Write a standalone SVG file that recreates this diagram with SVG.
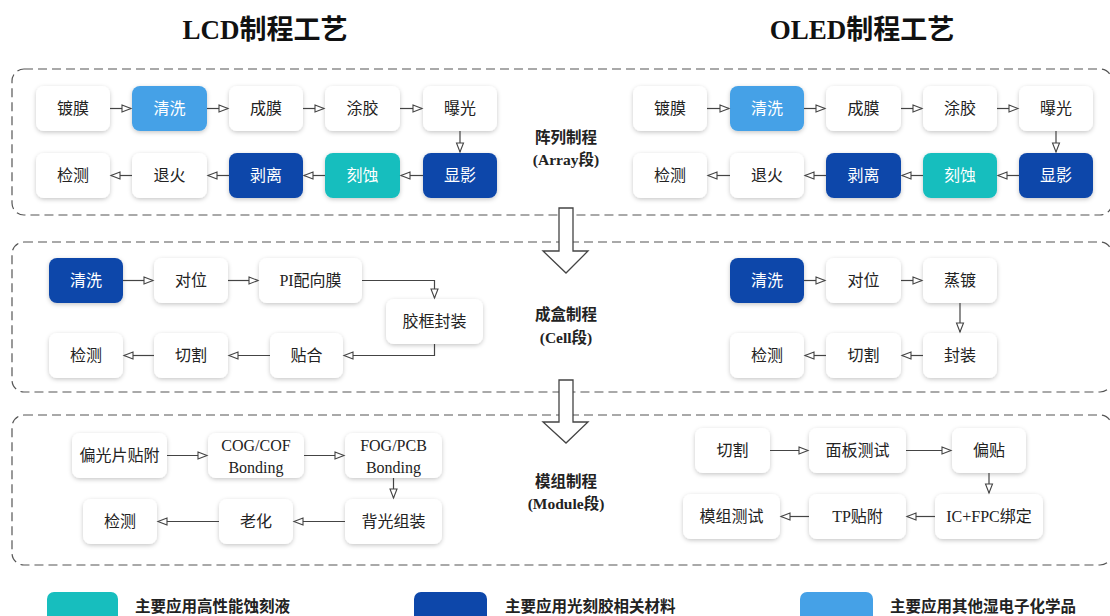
<svg xmlns="http://www.w3.org/2000/svg" width="1110" height="616" viewBox="0 0 1110 616">
<defs>
<filter id="sh" x="-20%" y="-30%" width="140%" height="160%">
<feDropShadow dx="0" dy="1.5" stdDeviation="2" flood-color="#000" flood-opacity="0.22"/>
</filter>
<marker id="ah" markerWidth="12" markerHeight="10" refX="10" refY="5" orient="auto" markerUnits="userSpaceOnUse">
<path d="M1,1.5 L10,5 L1,8.5 Z" fill="#fff" stroke="#444" stroke-width="1.1"/>
</marker>
<style>
.n{fill:#fff;filter:url(#sh)}
.lb{fill:#45a1e7;filter:url(#sh)}
.db{fill:#0d47aa;filter:url(#sh)}
.tl{fill:#17bebe;filter:url(#sh)}
text{font-family:"Liberation Serif","Noto Sans CJK SC",serif}
.t{font-size:16px;fill:#222;text-anchor:middle;dominant-baseline:central}
.w{font-size:16px;fill:#fff;text-anchor:middle;dominant-baseline:central}
.title{font-size:27px;font-weight:bold;fill:#111;text-anchor:middle}
.sl{font-size:15.5px;font-weight:bold;fill:#222;text-anchor:middle}
.lg{font-size:15.5px;font-weight:bold;fill:#222}
.sec{fill:none;stroke:#555;stroke-width:1.2;stroke-dasharray:9 5}
.c{fill:none;stroke:#444;stroke-width:1.2;marker-end:url(#ah)}
.big{fill:#fff;stroke:#444;stroke-width:1.3}
</style>
</defs>
<rect width="1110" height="616" fill="#fff"/>

<text class="title" x="265" y="39">LCD制程工艺</text>
<text class="title" x="862" y="39">OLED制程工艺</text>

<g id="sections">
<rect class="sec" x="12" y="69" width="1100" height="146" rx="12"/>
<rect class="sec" x="12" y="242" width="1100" height="150" rx="12"/>
<rect class="sec" x="12" y="415" width="1100" height="150" rx="12"/>
</g>

<g id="stage-labels">
<text class="sl" x="566" y="143">阵列制程</text>
<text class="sl" x="566" y="165">(Array段)</text>
<text class="sl" x="566" y="320">成盒制程</text>
<text class="sl" x="566" y="343">(Cell段)</text>
<text class="sl" x="566" y="487">模组制程</text>
<text class="sl" x="566" y="509">(Module段)</text>
</g>

<!-- LCD Array -->
<g id="lcd-a-dumo"><rect class="n" x="36" y="86" width="74" height="45" rx="8"/><text class="t" x="73" y="108.5">镀膜</text></g>
<g id="lcd-a-qingxi"><rect class="lb" x="132" y="86" width="75" height="45" rx="8"/><text class="w" x="169.5" y="108.5">清洗</text></g>
<g id="lcd-a-chengmo"><rect class="n" x="229" y="86" width="74" height="45" rx="8"/><text class="t" x="266" y="108.5">成膜</text></g>
<g id="lcd-a-tujiao"><rect class="n" x="325" y="86" width="75" height="45" rx="8"/><text class="t" x="362.5" y="108.5">涂胶</text></g>
<g id="lcd-a-baoguang"><rect class="n" x="423" y="86" width="74" height="45" rx="8"/><text class="t" x="460" y="108.5">曝光</text></g>
<g id="lcd-a-xianying"><rect class="db" x="423" y="153" width="74" height="45" rx="8"/><text class="w" x="460" y="175.5">显影</text></g>
<g id="lcd-a-keshi"><rect class="tl" x="325" y="153" width="75" height="45" rx="8"/><text class="w" x="362.5" y="175.5">刻蚀</text></g>
<g id="lcd-a-boli"><rect class="db" x="229" y="153" width="74" height="45" rx="8"/><text class="w" x="266" y="175.5">剥离</text></g>
<g id="lcd-a-tuihuo"><rect class="n" x="132" y="153" width="75" height="45" rx="8"/><text class="t" x="169.5" y="175.5">退火</text></g>
<g id="lcd-a-jiance"><rect class="n" x="36" y="153" width="74" height="45" rx="8"/><text class="t" x="73" y="175.5">检测</text></g>

<!-- OLED Array -->
<g id="oled-a-dumo"><rect class="n" x="633" y="86" width="74" height="45" rx="8"/><text class="t" x="670" y="108.5">镀膜</text></g>
<g id="oled-a-qingxi"><rect class="lb" x="730" y="86" width="74" height="45" rx="8"/><text class="w" x="767" y="108.5">清洗</text></g>
<g id="oled-a-chengmo"><rect class="n" x="826" y="86" width="75" height="45" rx="8"/><text class="t" x="863.5" y="108.5">成膜</text></g>
<g id="oled-a-tujiao"><rect class="n" x="923" y="86" width="74" height="45" rx="8"/><text class="t" x="960" y="108.5">涂胶</text></g>
<g id="oled-a-baoguang"><rect class="n" x="1019" y="86" width="74" height="45" rx="8"/><text class="t" x="1056" y="108.5">曝光</text></g>
<g id="oled-a-xianying"><rect class="db" x="1019" y="153" width="74" height="45" rx="8"/><text class="w" x="1056" y="175.5">显影</text></g>
<g id="oled-a-keshi"><rect class="tl" x="923" y="153" width="74" height="45" rx="8"/><text class="w" x="960" y="175.5">刻蚀</text></g>
<g id="oled-a-boli"><rect class="db" x="826" y="153" width="75" height="45" rx="8"/><text class="w" x="863.5" y="175.5">剥离</text></g>
<g id="oled-a-tuihuo"><rect class="n" x="730" y="153" width="74" height="45" rx="8"/><text class="t" x="767" y="175.5">退火</text></g>
<g id="oled-a-jiance"><rect class="n" x="633" y="153" width="74" height="45" rx="8"/><text class="t" x="670" y="175.5">检测</text></g>

<!-- LCD Cell -->
<g id="lcd-c-qingxi"><rect class="db" x="49" y="258" width="74" height="45" rx="8"/><text class="w" x="86" y="280.5">清洗</text></g>
<g id="lcd-c-duiwei"><rect class="n" x="154" y="258" width="74" height="45" rx="8"/><text class="t" x="191" y="280.5">对位</text></g>
<g id="lcd-c-pi"><rect class="n" x="259" y="258" width="103" height="45" rx="8"/><text class="t" x="310.5" y="280.5">PI配向膜</text></g>
<g id="lcd-c-jiaokuang"><rect class="n" x="386" y="299" width="97" height="45" rx="8"/><text class="t" x="434.5" y="321.5">胶框封装</text></g>
<g id="lcd-c-tiehe"><rect class="n" x="270" y="333" width="73" height="45" rx="8"/><text class="t" x="306.5" y="355.5">贴合</text></g>
<g id="lcd-c-qiege"><rect class="n" x="154" y="333" width="74" height="45" rx="8"/><text class="t" x="191" y="355.5">切割</text></g>
<g id="lcd-c-jiance"><rect class="n" x="49" y="333" width="74" height="45" rx="8"/><text class="t" x="86" y="355.5">检测</text></g>

<!-- OLED Cell -->
<g id="oled-c-qingxi"><rect class="db" x="730" y="258" width="74" height="45" rx="8"/><text class="w" x="767" y="280.5">清洗</text></g>
<g id="oled-c-duiwei"><rect class="n" x="826" y="258" width="75" height="45" rx="8"/><text class="t" x="863.5" y="280.5">对位</text></g>
<g id="oled-c-zhengdu"><rect class="n" x="923" y="258" width="74" height="45" rx="8"/><text class="t" x="960" y="280.5">蒸镀</text></g>
<g id="oled-c-fengzhuang"><rect class="n" x="923" y="333" width="74" height="45" rx="8"/><text class="t" x="960" y="355.5">封装</text></g>
<g id="oled-c-qiege"><rect class="n" x="826" y="333" width="75" height="45" rx="8"/><text class="t" x="863.5" y="355.5">切割</text></g>
<g id="oled-c-jiance"><rect class="n" x="730" y="333" width="74" height="45" rx="8"/><text class="t" x="767" y="355.5">检测</text></g>

<!-- LCD Module -->
<g id="lcd-m-pianguang"><rect class="n" x="72" y="433" width="95" height="45" rx="8"/><text class="t" x="119.5" y="455.5">偏光片贴附</text></g>
<g id="lcd-m-cog"><rect class="n" x="208" y="433" width="96" height="45" rx="8"/><text class="t" x="256" y="445">COG/COF</text><text class="t" x="256" y="467">Bonding</text></g>
<g id="lcd-m-fog"><rect class="n" x="345" y="433" width="97" height="45" rx="8"/><text class="t" x="393.5" y="445">FOG/PCB</text><text class="t" x="393.5" y="467">Bonding</text></g>
<g id="lcd-m-beiguang"><rect class="n" x="345" y="499" width="97" height="45" rx="8"/><text class="t" x="393.5" y="521.5">背光组装</text></g>
<g id="lcd-m-laohua"><rect class="n" x="219" y="499" width="74" height="45" rx="8"/><text class="t" x="256" y="521.5">老化</text></g>
<g id="lcd-m-jiance"><rect class="n" x="83" y="499" width="74" height="45" rx="8"/><text class="t" x="120" y="521.5">检测</text></g>

<!-- OLED Module -->
<g id="oled-m-qiege"><rect class="n" x="695" y="428" width="75" height="45" rx="8"/><text class="t" x="732.5" y="450.5">切割</text></g>
<g id="oled-m-mianban"><rect class="n" x="809" y="428" width="97" height="45" rx="8"/><text class="t" x="857.5" y="450.5">面板测试</text></g>
<g id="oled-m-piantie"><rect class="n" x="952" y="428" width="74" height="45" rx="8"/><text class="t" x="989" y="450.5">偏贴</text></g>
<g id="oled-m-ic"><rect class="n" x="935" y="494" width="108" height="45" rx="8"/><text class="t" x="989" y="516.5">IC+FPC绑定</text></g>
<g id="oled-m-tp"><rect class="n" x="809" y="494" width="97" height="45" rx="8"/><text class="t" x="857.5" y="516.5">TP贴附</text></g>
<g id="oled-m-mozu"><rect class="n" x="683" y="494" width="97" height="45" rx="8"/><text class="t" x="731.5" y="516.5">模组测试</text></g>

<g id="connectors">
<line class="c" x1="110" y1="108.5" x2="131" y2="108.5"/>
<line class="c" x1="207" y1="108.5" x2="228" y2="108.5"/>
<line class="c" x1="303" y1="108.5" x2="324" y2="108.5"/>
<line class="c" x1="400" y1="108.5" x2="422" y2="108.5"/>
<line class="c" x1="460" y1="131" x2="460" y2="152"/>
<line class="c" x1="423" y1="175.5" x2="401" y2="175.5"/>
<line class="c" x1="325" y1="175.5" x2="304" y2="175.5"/>
<line class="c" x1="229" y1="175.5" x2="208" y2="175.5"/>
<line class="c" x1="132" y1="175.5" x2="111" y2="175.5"/>
<line class="c" x1="707" y1="108.5" x2="729" y2="108.5"/>
<line class="c" x1="804" y1="108.5" x2="825" y2="108.5"/>
<line class="c" x1="901" y1="108.5" x2="922" y2="108.5"/>
<line class="c" x1="997" y1="108.5" x2="1018" y2="108.5"/>
<line class="c" x1="1056" y1="131" x2="1056" y2="152"/>
<line class="c" x1="1019" y1="175.5" x2="998" y2="175.5"/>
<line class="c" x1="923" y1="175.5" x2="902" y2="175.5"/>
<line class="c" x1="826" y1="175.5" x2="805" y2="175.5"/>
<line class="c" x1="730" y1="175.5" x2="708" y2="175.5"/>
<line class="c" x1="123" y1="280.5" x2="153" y2="280.5"/>
<line class="c" x1="228" y1="280.5" x2="258" y2="280.5"/>
<polyline class="c" points="362,280.5 434.5,280.5 434.5,298"/>
<polyline class="c" points="434.5,344 434.5,355.5 344,355.5"/>
<line class="c" x1="270" y1="355.5" x2="229" y2="355.5"/>
<line class="c" x1="154" y1="355.5" x2="124" y2="355.5"/>
<line class="c" x1="804" y1="280.5" x2="825" y2="280.5"/>
<line class="c" x1="901" y1="280.5" x2="922" y2="280.5"/>
<line class="c" x1="960" y1="303" x2="960" y2="332"/>
<line class="c" x1="923" y1="355.5" x2="902" y2="355.5"/>
<line class="c" x1="826" y1="355.5" x2="805" y2="355.5"/>
<line class="c" x1="167" y1="455.5" x2="207" y2="455.5"/>
<line class="c" x1="304" y1="455.5" x2="344" y2="455.5"/>
<line class="c" x1="393.5" y1="478" x2="393.5" y2="498"/>
<line class="c" x1="345" y1="521.5" x2="294" y2="521.5"/>
<line class="c" x1="219" y1="521.5" x2="158" y2="521.5"/>
<line class="c" x1="770" y1="450.5" x2="808" y2="450.5"/>
<line class="c" x1="906" y1="450.5" x2="951" y2="450.5"/>
<line class="c" x1="989" y1="473" x2="989" y2="493"/>
<line class="c" x1="935" y1="516.5" x2="907" y2="516.5"/>
<line class="c" x1="809" y1="516.5" x2="781" y2="516.5"/>
<path class="big" d="M559,208 L573,208 L573,251 L588,251 L566,273 L543,251 L559,251 Z"/>
<path class="big" d="M559,380 L573,380 L573,422 L588,422 L566,443 L543,422 L559,422 Z"/>
</g>

<g id="legend">
<rect x="47" y="592" width="71" height="34" rx="7" fill="#17bebe"/>
<text class="lg" x="135" y="612">主要应用高性能蚀刻液</text>
<rect x="414" y="592" width="73" height="34" rx="7" fill="#0d47aa"/>
<text class="lg" x="505" y="612">主要应用光刻胶相关材料</text>
<rect x="800" y="592" width="73" height="34" rx="7" fill="#45a1e7"/>
<text class="lg" x="890" y="612">主要应用其他湿电子化学品</text>
</g>
</svg>
